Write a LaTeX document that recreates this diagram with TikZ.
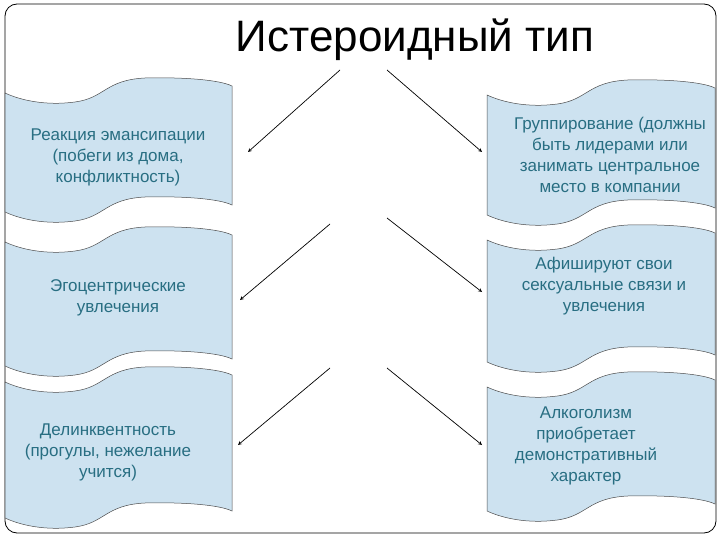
\documentclass[tikz,border=0pt]{standalone}
\usepackage{fontspec}
\setmainfont{Liberation Sans}
\definecolor{boxfill}{RGB}{205,226,240}
\definecolor{boxtext}{RGB}{40,110,130}
\tikzset{
 scrollbox/.style={draw=black!70,line width=0.5pt,fill=boxfill},
 btext/.style={align=center,text=boxtext,font=\fontsize{17}{21}\selectfont},
 arr/.style={-stealth,line width=0.7pt}
}
\newcommand{\scrl}[4]{% x0, top, h, width
 \begin{scope}[shift={(#1,#2)},xscale=#4/227]
 \path[scrollbox] (0,15) .. controls (15,22) and (40,28) .. (70,24) .. controls (100,20) and (100,2) .. (140,0) .. controls (180,-1) and (215,2) .. (227,8) -- (227,#3+8) .. controls (215,#3+2) and (180,#3-1) .. (140,#3) .. controls (100,#3+2) and (100,#3+20) .. (70,#3+24) .. controls (40,#3+28) and (15,#3+22) .. (0,#3+15) -- cycle;
 \end{scope}}
\begin{document}
\begin{tikzpicture}[x=1pt,y=-1pt]
\useasboundingbox (0,0) rectangle (720,540);
\draw[black,line width=0.8pt,rounded corners=12pt] (5,4) rectangle (716,533);
\node (title) at (415,40) {\fontsize{44}{48}\selectfont Истероидный тип};
\scrl{5}{78}{119}{227}
\scrl{5}{227}{124}{227}
\scrl{5}{367}{136}{227}
\scrl{487}{80}{120}{228}
\scrl{487}{225}{122}{228}
\scrl{487}{372}{124}{228}
\node[btext] (l1) at (118,157) {Реакция эмансипации\\(побеги из дома,\\конфликтность)};
\node[btext] (l2) at (118,298) {Эгоцентрические\\увлечения};
\node[btext] (l3) at (108,452) {Делинквентность\\(прогулы, нежелание\\учится)};
\node[btext] (r1) at (610,155) {Группирование (должны\\быть лидерами или\\занимать центральное\\место в компании};
\node[btext] (r2) at (604,286) {Афишируют свои\\сексуальные связи и\\увлечения};
\node[btext] (r3) at (586,446) {Алкоголизм\\приобретает\\демонстративный\\характер};
\coordinate (a1) at (340,70); \coordinate (b1) at (248,152);
\coordinate (a2) at (330,224); \coordinate (b2) at (240,300);
\coordinate (a3) at (330,368); \coordinate (b3) at (238,445);
\coordinate (c1) at (387,70); \coordinate (d1) at (482,152);
\coordinate (c2) at (387,218); \coordinate (d2) at (482,292);
\coordinate (c3) at (387,368); \coordinate (d3) at (482,445);
\foreach \s/\t in {a1/b1,a2/b2,a3/b3,c1/d1,c2/d2,c3/d3} \draw[arr] (\s) -- (\t);
\end{tikzpicture}
\end{document}
